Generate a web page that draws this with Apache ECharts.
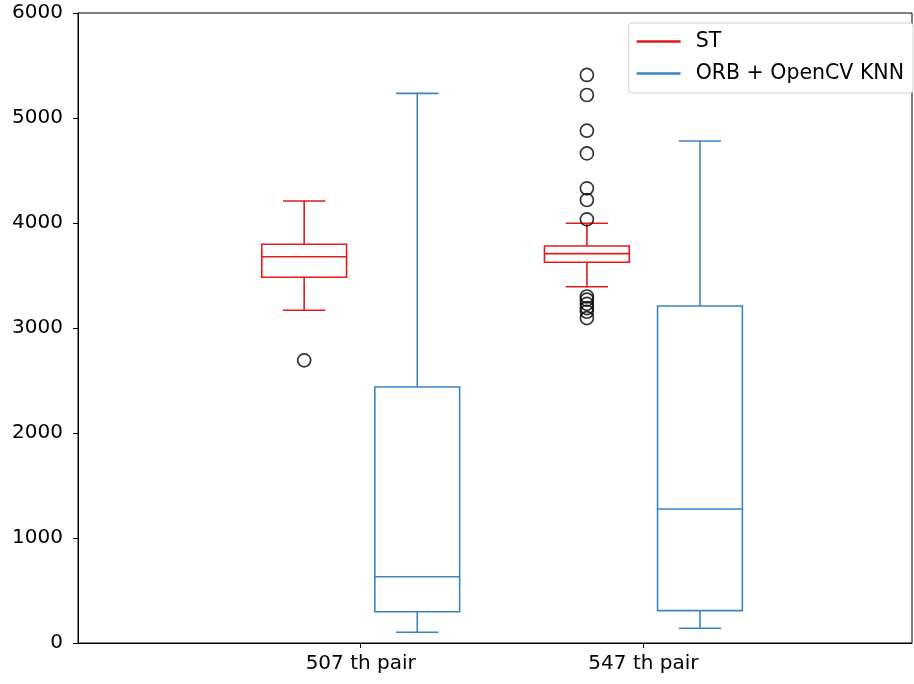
<!DOCTYPE html>
<html><head><meta charset="utf-8">
<script src="https://cdn.jsdelivr.net/npm/echarts@6/dist/echarts.min.js"></script>
<style>html,body{margin:0;padding:0;background:#fff}#c{width:914px;height:684px}</style>
</head><body><div id="c"></div>
<script>
const categories = ['507 th pair', '547 th pair'];
const seriesNames = ['ST', 'ORB + OpenCV KNN'];
// [min whisker, Q1, median, Q3, max whisker]
const stStats = [[3169, 3483, 3679, 3797, 4210], [3393, 3626, 3708, 3781, 3997]];
const orbStats = [[102, 298, 631, 2438, 5235], [140, 308, 1276, 3210, 4781]];
const stOutliers = [[2692], [5410, 5219, 4879, 4663, 4330, 4219, 4035, 3300, 3270, 3230, 3190, 3155, 3095]];
const orbOutliers = [[], []];
const yTicks = [0, 1000, 2000, 3000, 4000, 5000, 6000];

const RED = '#e31a1c', BLUE = '#3a84c4';
const OFFSET = 0.2, BOXW = 0.3;

function boxData(stats, off) {
  return stats.map((s, i) => [i + 1 + off].concat(s));
}
function outData(outs, off) {
  const r = [];
  outs.forEach((arr, i) => arr.forEach(v => r.push([i + 1 + off, v])));
  return r;
}
function makeRender(color) {
  return function (params, api) {
    const x = api.value(0);
    const w = api.size([BOXW, 0])[0];
    const lo = api.coord([x, api.value(1)]);
    const q1 = api.coord([x, api.value(2)]);
    const md = api.coord([x, api.value(3)]);
    const q3 = api.coord([x, api.value(4)]);
    const hi = api.coord([x, api.value(5)]);
    const cx = lo[0];
    const st = { stroke: color, lineWidth: 1.6, fill: null };
    const line = (x1, y1, x2, y2) => ({ type: 'line', shape: { x1, y1, x2, y2 }, style: st });
    return {
      type: 'group',
      children: [
        { type: 'rect', shape: { x: cx - w / 2, y: q3[1], width: w, height: q1[1] - q3[1] }, style: { stroke: color, lineWidth: 1.6, fill: 'none' } },
        line(cx - w / 2, md[1], cx + w / 2, md[1]),
        line(cx, q3[1], cx, hi[1]),
        line(cx, q1[1], cx, lo[1]),
        line(cx - w / 4, hi[1], cx + w / 4, hi[1]),
        line(cx - w / 4, lo[1], cx + w / 4, lo[1])
      ]
    };
  };
}

const chart = echarts.init(document.getElementById('c'));
chart.setOption({
  animation: false,
  backgroundColor: '#fff',
  textStyle: { fontFamily: 'DejaVu Sans' },
  grid: { left: 78, right: 2, top: 13, bottom: 41, show: true, borderColor: '#000', borderWidth: 1 },
  legend: {
    data: seriesNames,
    orient: 'vertical',
    right: 1, top: 23,
    backgroundColor: '#fff',
    borderColor: '#d0d0d0', borderWidth: 1, borderRadius: 3,
    padding: [8, 9, 9, 8],
    itemGap: 11,
    itemWidth: 44, itemHeight: 2.5,
    icon: 'rect',
    textStyle: { fontSize: 20.5, color: '#000', fontFamily: 'DejaVu Sans', padding: [0, 0, 0, 10] }
  },
  xAxis: {
    type: 'value', min: 0, max: 2.95,
    splitLine: { show: false },
    axisLine: { show: true, lineStyle: { color: '#000' } },
    axisTick: { show: true, length: 5, customValues: [1, 2], lineStyle: { color: '#000' } },
    axisLabel: {
      customValues: [1, 2], fontSize: 20, color: '#000', margin: 11,
      formatter: v => categories[Math.round(v) - 1] || ''
    }
  },
  yAxis: {
    type: 'value', min: 0, max: 6000, interval: 1000,
    splitLine: { show: false },
    axisLine: { show: true, lineStyle: { color: '#000' } },
    axisTick: { show: true, length: 5, lineStyle: { color: '#000' } },
    axisLabel: { fontSize: 20, color: '#000', margin: 15, formatter: v => yTicks.includes(v) ? String(v) : '' }
  },
  series: [
    { name: seriesNames[0], type: 'custom', renderItem: makeRender(RED), itemStyle: { color: RED },
      encode: { x: 0, y: [1, 2, 3, 4, 5] }, data: boxData(stStats, -OFFSET) },
    { name: seriesNames[1], type: 'custom', renderItem: makeRender(BLUE), itemStyle: { color: BLUE },
      encode: { x: 0, y: [1, 2, 3, 4, 5] }, data: boxData(orbStats, OFFSET) },
    { name: 'ST outliers', type: 'scatter', symbol: 'circle', symbolSize: 13,
      itemStyle: { color: 'rgba(0,0,0,0)', borderColor: '#000', borderWidth: 1.7 },
      data: outData(stOutliers, -OFFSET) },
    { name: 'ORB outliers', type: 'scatter', symbol: 'circle', symbolSize: 13,
      itemStyle: { color: 'rgba(0,0,0,0)', borderColor: '#000', borderWidth: 1.7 },
      data: outData(orbOutliers, OFFSET) }
  ]
});
</script></body></html>
